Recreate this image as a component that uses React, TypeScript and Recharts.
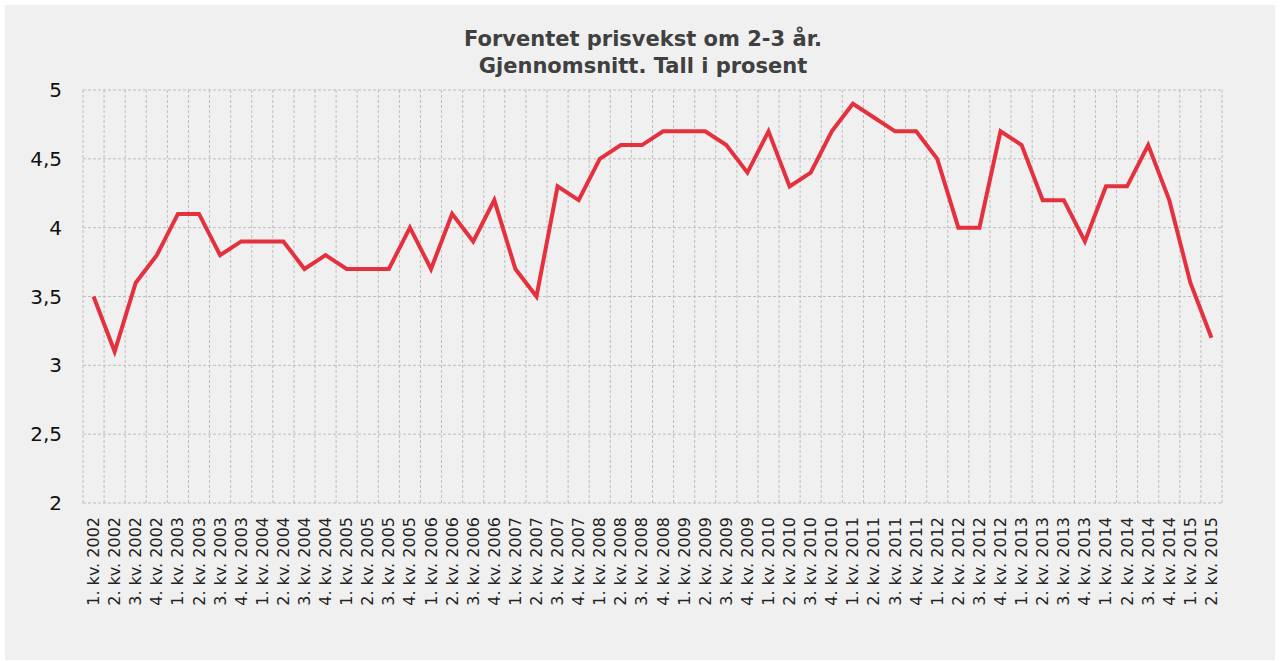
import React from "react";
import { LineChart, Line, XAxis, YAxis, CartesianGrid } from "recharts";

const quarters = ["1. kv.", "2. kv.", "3. kv.", "4. kv."];
const years = [2002, 2003, 2004, 2005, 2006, 2007, 2008, 2009, 2010, 2011, 2012, 2013, 2014, 2015];

const categories: string[] = years
  .flatMap((y) => quarters.map((q) => `${q} ${y}`))
  .slice(0, 54);

const expectedInflation = [
  3.5, 3.1, 3.6, 3.8,
  4.1, 4.1, 3.8, 3.9,
  3.9, 3.9, 3.7, 3.8,
  3.7, 3.7, 3.7, 4.0,
  3.7, 4.1, 3.9, 4.2,
  3.7, 3.5, 4.3, 4.2,
  4.5, 4.6, 4.6, 4.7,
  4.7, 4.7, 4.6, 4.4,
  4.7, 4.3, 4.4, 4.7,
  4.9, 4.8, 4.7, 4.7,
  4.5, 4.0, 4.0, 4.7,
  4.6, 4.2, 4.2, 3.9,
  4.3, 4.3, 4.6, 4.2,
  3.6, 3.2,
];

const yTicks = [2, 2.5, 3, 3.5, 4, 4.5, 5];

const data = categories.map((label, i) => ({ label, value: expectedInflation[i] }));

const FONT = "'DejaVu Sans', Verdana, sans-serif";

// plot area width, and half a category band on each side so points sit mid-band
const W = 1270;
const MARGIN = { top: 85, right: 53, left: 18, bottom: 57 };
const Y_WIDTH = 60;
const plotWidth = W - MARGIN.left - MARGIN.right - Y_WIDTH;
const halfBand = plotWidth / categories.length / 2;

function QuarterTick({ x, y, payload }: any) {
  return (
    <text
      x={x}
      y={y + 6}
      transform={`rotate(-90, ${x}, ${y + 6})`}
      textAnchor="end"
      dominantBaseline="central"
      fontSize={16}
      fontFamily={FONT}
      fill="#222"
    >
      {payload.value}
    </text>
  );
}

export default function App() {
  return (
    <div
      style={{
        position: "absolute",
        left: 5,
        top: 5,
        width: W,
        height: 655,
        background: "#f0f0f0",
      }}
    >
      <div
        style={{
          position: "absolute",
          top: 21,
          left: 0,
          width: 1276,
          textAlign: "center",
          fontFamily: FONT,
          fontWeight: "bold",
          fontSize: 21,
          lineHeight: "27px",
          color: "#404040",
        }}
      >
        Forventet prisvekst om 2-3 år.
        <br />
        Gjennomsnitt. Tall i prosent
      </div>
      <LineChart width={W} height={655} data={data} margin={MARGIN}>
        <CartesianGrid
          stroke="#bdbdbd"
          strokeDasharray="3 2"
          verticalCoordinatesGenerator={({ offset }: any) =>
            Array.from(
              { length: categories.length + 1 },
              (_, i) => offset.left + (i * offset.width) / categories.length
            )
          }
        />
        <XAxis
          dataKey="label"
          interval={0}
          axisLine={false}
          tickLine={false}
          height={100}
          padding={{ left: halfBand, right: halfBand }}
          tick={<QuarterTick />}
        />
        <YAxis
          domain={[2, 5]}
          ticks={yTicks}
          width={Y_WIDTH}
          axisLine={false}
          tickLine={false}
          tickMargin={15}
          tickFormatter={(v: number) => String(v).replace(".", ",")}
          tick={{ fill: "#111", fontSize: 20, fontFamily: FONT }}
        />
        <Line
          type="linear"
          dataKey="value"
          stroke="#e5303e"
          strokeWidth={4}
          dot={false}
          isAnimationActive={false}
        />
      </LineChart>
    </div>
  );
}
